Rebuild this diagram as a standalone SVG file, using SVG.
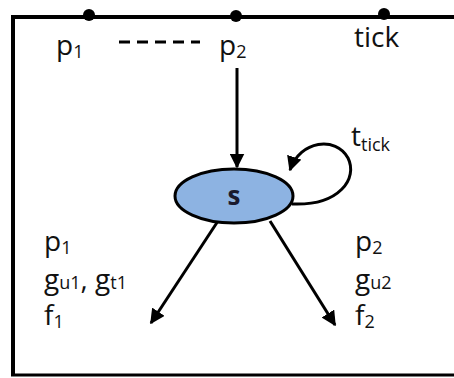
<svg xmlns="http://www.w3.org/2000/svg" width="454" height="378" viewBox="0 0 454 378">
<style>
.t{font-family:"Open Sans","DejaVu Sans",sans-serif;font-size:28px;fill:#111}
.s{font-size:18px}
.ln{stroke:#000;stroke-width:3;fill:none}
</style>
<defs>
<marker id="ah" viewBox="0 0 10 10" refX="9" refY="5" markerWidth="5" markerHeight="5" orient="auto" markerUnits="strokeWidth">
<path d="M0,0 L10,5 L0,10 z" fill="#000"/>
</marker>
</defs>
<rect width="454" height="378" fill="#fff"/>
<g id="frame">
<path d="M13,376 V17 H454" stroke="#000" stroke-width="4" fill="none"/>
<path d="M11,375 H454" stroke="#000" stroke-width="3" fill="none"/>
<circle cx="89" cy="15" r="6"/>
<circle cx="236" cy="16" r="6"/>
<circle cx="384" cy="14" r="6"/>
</g>
<g id="labels-top">
<text class="t" x="56" y="55">p<tspan class="s" dy="3">1</tspan></text>
<path d="M119,42 H200" stroke="#000" stroke-width="3" stroke-dasharray="11,7"/>
<text class="t" x="219" y="55">p<tspan class="s" dy="3">2</tspan></text>
<text class="t" x="354" y="47">tick</text>
</g>
<g id="connectors">
<path class="ln" d="M237,68 V167" marker-end="url(#ah)"/>
<path class="ln" d="M292,204 C340,206 358,178 348,158 C336,136 300,140 290,170" marker-end="url(#ah)"/>
<path class="ln" d="M218,221 L151,323" marker-end="url(#ah)"/>
<path class="ln" d="M270,221 L335,325" marker-end="url(#ah)"/>
</g>
<g id="node-s">
<ellipse cx="234" cy="196" rx="59" ry="27" fill="#8db3e2" stroke="#000" stroke-width="3"/>
<text x="234" y="205" text-anchor="middle" font-family="Open Sans, DejaVu Sans, sans-serif" font-weight="bold" font-size="26" fill="#1a1a2e">s</text>
</g>
<g id="label-ttick">
<text class="t" x="351" y="146">t<tspan class="s" dy="5">tick</tspan></text>
</g>
<g id="label-left">
<text class="t" x="44" y="251">p<tspan class="s" dy="3">1</tspan></text>
<text class="t" x="44" y="289">g<tspan class="s" dy="0">u1</tspan>, g<tspan class="s">t1</tspan></text>
<text class="t" x="44" y="325">f<tspan class="s" dy="3">1</tspan></text>
</g>
<g id="label-right">
<text class="t" x="355" y="251">p<tspan class="s" dy="3">2</tspan></text>
<text class="t" x="355" y="289">g<tspan class="s">u2</tspan></text>
<text class="t" x="355" y="325">f<tspan class="s" dy="3">2</tspan></text>
</g>
</svg>
